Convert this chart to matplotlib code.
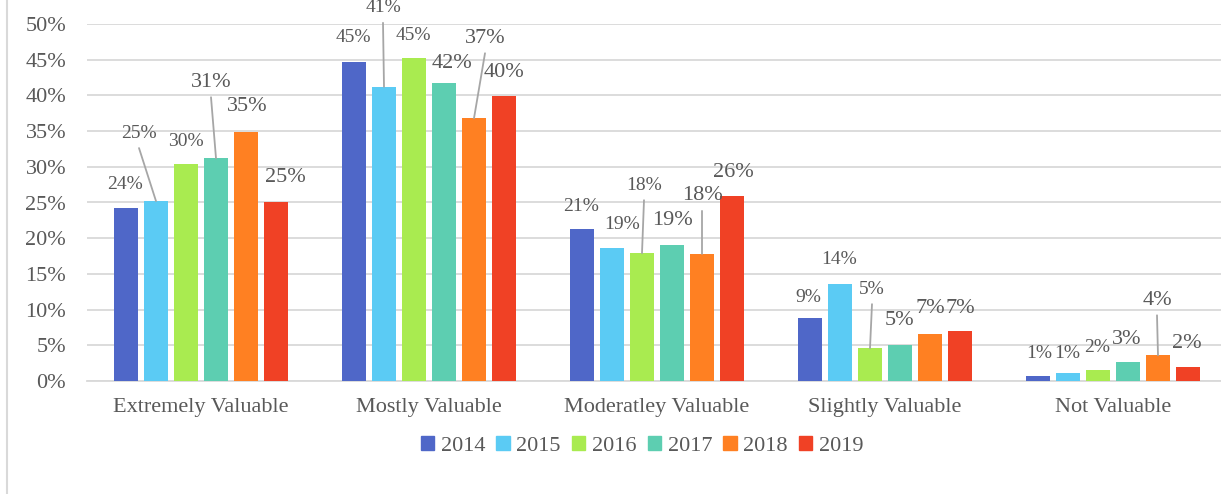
import matplotlib.pyplot as plt
from matplotlib.lines import Line2D
from matplotlib.patches import Patch

categories = ["Extremely Valuable", "Mostly Valuable", "Moderatley Valuable",
              "Slightly Valuable", "Not Valuable"]
years = ["2014", "2015", "2016", "2017", "2018", "2019"]

v2014 = [24.2, 44.7, 21.3, 8.8, 0.7]
v2015 = [25.2, 41.2, 18.6, 13.6, 1.1]
v2016 = [30.4, 45.2, 17.9, 4.6, 1.6]
v2017 = [31.2, 41.7, 19.0, 5.0, 2.6]
v2018 = [34.9, 36.8, 17.8, 6.6, 3.6]
v2019 = [25.0, 39.9, 25.9, 7.0, 2.0]
series = [v2014, v2015, v2016, v2017, v2018, v2019]

colors = ["#4F67C8", "#5BCBF4", "#A9EB50", "#5DCEB1", "#FF8022", "#F04125"]
label_sizes = [14, 14, 14, 16, 16, 16]

# label offsets in pixels (dx, dy) from bar top, and whether a leader line is drawn
offsets = {
    (0, 0): (-1, 24), (0, 1): (-17, 68, True), (0, 2): (0, 22),
    (0, 3): (-5, 76, True), (0, 4): (1, 25), (0, 5): (9, 25),
    (1, 0): (-1, 24), (1, 1): (-1, 79, True), (1, 2): (-1, 23),
    (1, 3): (8, 20), (1, 4): (11, 80, True), (1, 5): (0, 24),
    (2, 0): (-1, 22), (2, 1): (10, 24), (2, 2): (2, 68, True),
    (2, 3): (0, 25), (2, 4): (0, 58, True), (2, 5): (1, 24),
    (3, 0): (-2, 21), (3, 1): (-1, 24), (3, 2): (2, 59, True),
    (3, 3): (0, 25), (3, 4): (0, 25), (3, 5): (0, 23),
    (4, 0): (1, 23), (4, 1): (-1, 20), (4, 2): (-1, 22),
    (4, 3): (-1, 23), (4, 4): (-1, 55, True), (4, 5): (-1, 23),
}

plt.rcParams['font.family'] = ['Liberation Serif', 'DejaVu Serif']
txt = "#595959"
grid = "#D9D9D9"

dpi = 100
W, H = 1221, 494
fig = plt.figure(figsize=(W / dpi, H / dpi), dpi=dpi)
ax = fig.add_axes([87 / W, (H - 381) / H, (W - 87) / W, (381 - 24) / H])

step = 30 / 228
width = 24 / 228
for j, vals in enumerate(series):
    xs = [i + (j - 2.5) * step for i in range(len(categories))]
    ax.bar(xs, vals, width=width, color=colors[j], zorder=3)
    for i, v in enumerate(vals):
        off = offsets[(i, j)]
        dx, dy = off[0], off[1]
        ax.annotate("%d%%" % int(v + 0.5), (xs[i], v), xytext=(dx, dy),
                    textcoords="offset pixels", ha="center", va="center",
                    fontsize=label_sizes[j], color=txt, zorder=5)
        if len(off) > 2:
            ax.annotate("", (xs[i], v), xytext=(dx, dy - 15),
                        textcoords="offset pixels",
                        arrowprops=dict(arrowstyle="-", color="#A6A6A6",
                                        lw=1.3, shrinkA=0, shrinkB=0),
                        zorder=4)

ax.set_ylim(0, 50)
ax.set_xlim(-0.5, 4.5 - 6 / 228)
ax.set_yticks(range(0, 51, 5))
ax.set_yticklabels(["%d%%" % t for t in range(0, 51, 5)])
ax.set_xticks(range(len(categories)))
ax.set_xticklabels(categories)
ax.tick_params(axis="y", length=0, pad=15, labelsize=16, labelcolor=txt)
ax.tick_params(axis="x", length=0, pad=12, labelsize=16, labelcolor=txt)
ax.grid(axis="y", color=grid, lw=1.3, zorder=0)
for s in ["top", "right", "left"]:
    ax.spines[s].set_visible(False)
ax.spines["bottom"].set_color(grid)
ax.spines["bottom"].set_linewidth(1.3)

handles = [Patch(color=c, label=y) for c, y in zip(colors, years)]
fig.legend(handles=handles, loc="center", bbox_to_anchor=(642 / W, (H - 446) / H),
           ncol=6, frameon=False, fontsize=16, labelcolor=txt,
           handlelength=0.6, handleheight=0.6, handletextpad=0.3,
           columnspacing=0.5)

fig.add_artist(Line2D([7 / W, 7 / W], [0, 1], color=grid, lw=1.5))

fig.savefig("out.png", dpi=dpi)
